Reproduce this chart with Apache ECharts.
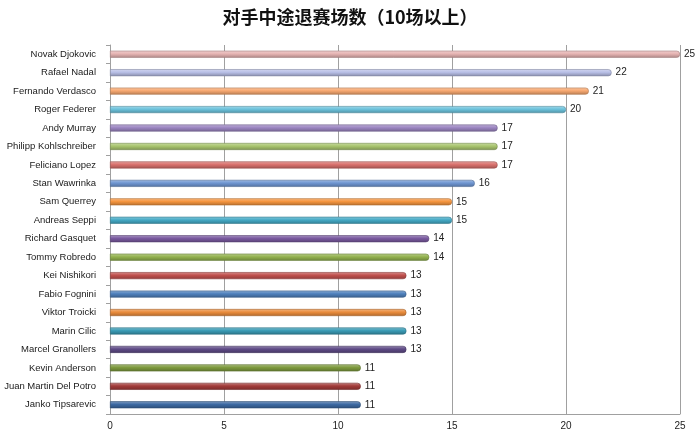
<!DOCTYPE html>
<html><head><meta charset="utf-8">
<script src="https://cdn.jsdelivr.net/npm/echarts@6/dist/echarts.min.js"></script>
<style>html,body{margin:0;padding:0;background:#fff}#c{width:700px;height:435px}</style>
</head><body><div id="c"></div>
<script>
var players = ["Novak Djokovic","Rafael Nadal","Fernando Verdasco","Roger Federer","Andy Murray","Philipp Kohlschreiber","Feliciano Lopez","Stan Wawrinka","Sam Querrey","Andreas Seppi","Richard Gasquet","Tommy Robredo","Kei Nishikori","Fabio Fognini","Viktor Troicki","Marin Cilic","Marcel Granollers","Kevin Anderson","Juan Martin Del Potro","Janko Tipsarevic"];
var retirements = [25,22,21,20,17,17,17,16,15,15,14,14,13,13,13,13,13,11,11,11];
var barColors = ["#e6b4b3","#b8bfe6","#f7a870","#6cc2dc","#9c86c2","#a9c56e","#d9716d","#6f96d2","#f5953f","#45aac6","#7a5aa0","#93b24e","#c0504d","#4f81bd","#ea8c3c","#3a9bb5","#5e4a86","#7e9a3e","#a23b39","#3c69a2"];
var xTicks = [0,5,10,15,20,25];

function shade(hex, f){
  var n=parseInt(hex.slice(1),16), r=n>>16, g=(n>>8)&255, b=n&255;
  function m(c){ return Math.max(0,Math.min(255,Math.round(f>0? c+(255-c)*f : c*(1+f)))); }
  return 'rgb('+m(r)+','+m(g)+','+m(b)+')';
}

var chart = echarts.init(document.getElementById('c'));
chart.setOption({
  animation:false,
  title:{text:'对手中途退赛场数（10场以上）',left:'center',top:3,
    textStyle:{fontFamily:'Noto Sans CJK SC',fontSize:18,fontWeight:'bold',color:'#111'}},
  grid:{left:110,right:20,top:45,bottom:21},
  xAxis:{type:'value',min:xTicks[0],max:xTicks[xTicks.length-1],interval:5,
    axisLine:{show:true,lineStyle:{color:'#a0a0a0'}},axisTick:{show:false},
    axisLabel:{fontSize:10,color:'#222',fontFamily:'Liberation Sans',margin:7},
    splitLine:{show:true,lineStyle:{color:'#a0a0a0',width:1}}},
  yAxis:{type:'category',inverse:true,data:players,
    axisLine:{show:true,lineStyle:{color:'#a0a0a0'}},
    axisTick:{show:true,length:4,lineStyle:{color:'#a0a0a0'}},
    axisLabel:{fontSize:9.5,color:'#1a1a1a',fontFamily:'Liberation Sans',margin:14}},
  series:[{type:'bar',barWidth:7,
    data:retirements.map(function(v,i){
      var c=barColors[i];
      return {value:v,itemStyle:{
        color:{type:'linear',x:0,y:0,x2:0,y2:1,colorStops:[
          {offset:0,color:shade(c,0.35)},{offset:0.45,color:c},{offset:1,color:shade(c,-0.25)}]},
        borderColor:shade(c,-0.3),borderWidth:0.6,borderRadius:[0,3,3,0]}};
    }),
    label:{show:true,position:'right',fontSize:10,color:'#222',fontFamily:'Liberation Sans',distance:4}
  }]
});
</script></body></html>
